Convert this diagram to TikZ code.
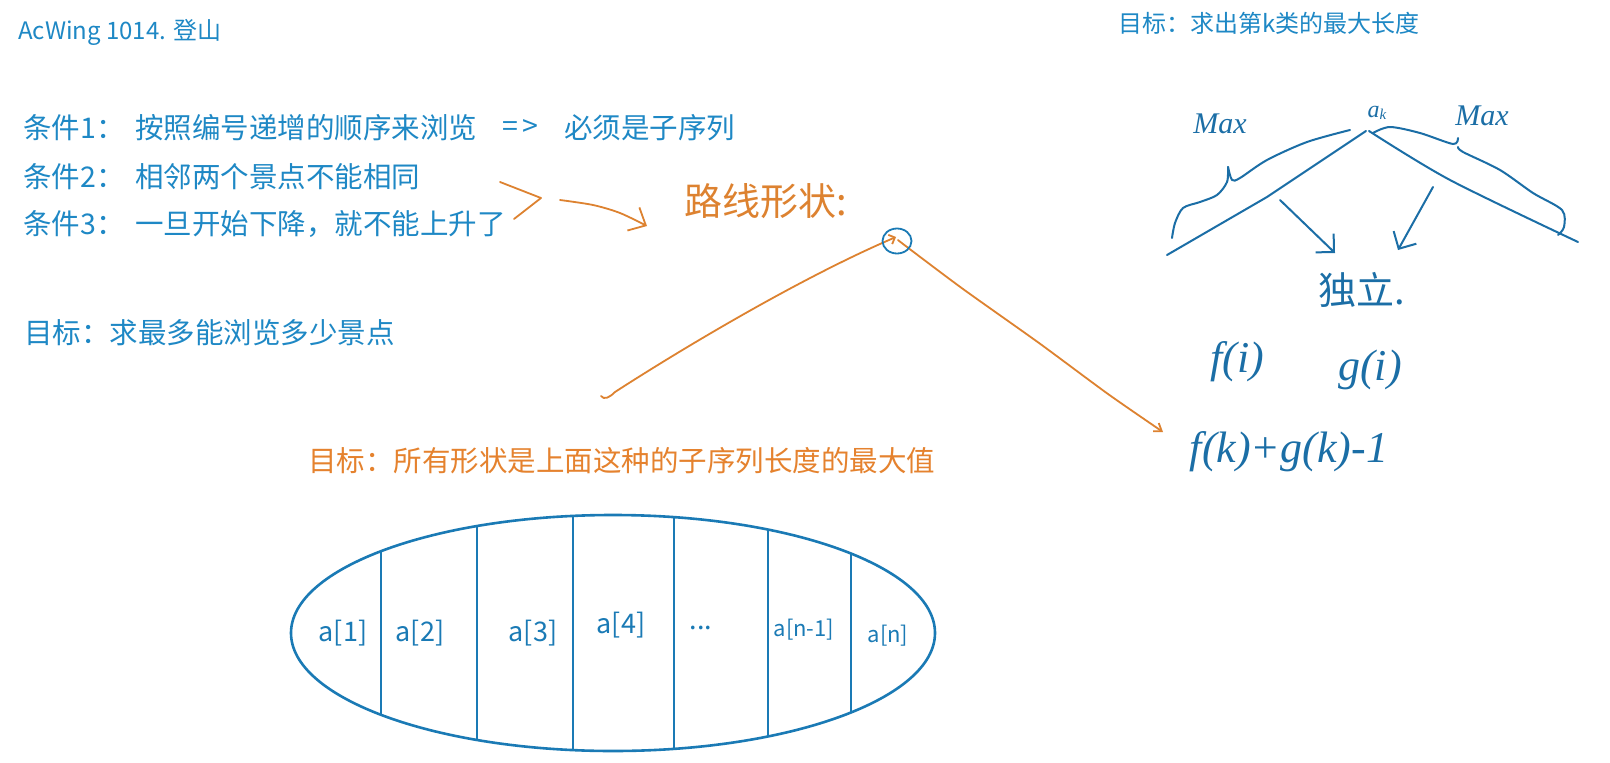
\documentclass[tikz,border=0pt]{standalone}
\usepackage{fontspec}
\setmainfont{Noto Sans CJK SC}
\newfontfamily\handfont{Liberation Serif}
\usetikzlibrary{arrows.meta}

\definecolor{textblue}{HTML}{1E88C5}
\definecolor{lineblue}{HTML}{1A7AB5}
\definecolor{inkblue}{HTML}{1B6EA6}
\definecolor{textorange}{HTML}{E5822E}
\definecolor{inkorange}{HTML}{DD8230}

\begin{document}
\begin{tikzpicture}[x=1pt,y=-1pt,
  txt/.style={anchor=west,inner sep=0pt,text=textblue,font=\fontsize{28.5}{30}\selectfont},
  subtitle/.style={anchor=west,inner sep=0pt,text=textblue,font=\fontsize{24}{26}\selectfont},
  cell/.style={inner sep=0pt,text=lineblue,font=\fontsize{27}{28}\selectfont},
  smallcell/.style={inner sep=0pt,text=lineblue,font=\fontsize{22}{23}\selectfont},
  ink/.style={draw=inkblue,line width=2pt,line cap=round,line join=round},
  oink/.style={draw=inkorange,line width=1.8pt,line cap=round,line join=round},
  hand/.style={inner sep=0pt,text=inkblue,font=\handfont\itshape\fontsize{44}{44}\selectfont},
  handcjk/.style={inner sep=0pt,font=\fontsize{38}{40}\selectfont},
]
\useasboundingbox (0,0) rectangle (1610,763);
\fill[white] (0,0) rectangle (1610,763);

% ---------- typed notes ----------
\node[subtitle] (title) at (18,32) {AcWing 1014. 登山};
\node[subtitle] (goalk) at (1118,23) {目标：求出第k类的最大长度};

\node[txt] (c1) at (23,128) {条件1：};
\node[txt] (c1body) at (135,128) {按照编号递增的顺序来浏览};
\node[txt] (imp) at (502,128) {=\,>};
\node[txt] (c1res) at (564,128) {必须是子序列};
\node[txt] (c2) at (23,177) {条件2：};
\node[txt] (c2body) at (135,177) {相邻两个景点不能相同};
\node[txt] (c3) at (23,224) {条件3：};
\node[txt] (c3body) at (135,224) {一旦开始下降，就不能上升了};
\node[txt] (goal) at (24,333) {目标：求最多能浏览多少景点};
\node[txt,text=textorange] (goal2) at (308,461) {目标：所有形状是上面这种的子序列长度的最大值};

% ---------- the sequence a[1..n] ----------
\draw[lineblue,line width=2.6pt] (613,633) ellipse [x radius=322, y radius=118];
\begin{scope}
  \clip (613,633) ellipse [x radius=322, y radius=118];
  \foreach \cx in {381,477,573,674,768,851}
    \draw[lineblue,line width=2.4pt] (\cx,500) -- (\cx,770);
\end{scope}
\node[cell] (a1) at (343,633) {a[1]};
\node[cell] (a2) at (420,633) {a[2]};
\node[cell] (a3) at (533,633) {a[3]};
\node[cell] (a4) at (621,625) {a[4]};
\node[cell] (dots) at (701,628) {...};
\node[smallcell] (an1) at (804,630) {a[n-1]};
\node[smallcell] (an) at (888,636) {a[n]};

% ---------- orange sketch: route shape ----------
\node[handcjk,text=inkorange] (shape) at (766,201) {路线形状:};
\draw[oink] (500,182) -- (541,198) -- (514,219);
\coordinate (arrowstart) at (560,200);
\coordinate (arrowtip) at (647,226);
\draw[oink,-{Straight Barb[length=14pt,width=26pt]}]
  plot[smooth] coordinates {(arrowstart) (593,205) (620,213) (arrowtip)};

\coordinate (peak) at (896,237);
\coordinate (foot) at (1163,432);
\draw[oink,-{Straight Barb[length=5pt,width=10pt]}]
  (601,396) .. controls (604,400) and (609,398) .. (615,392)
  .. controls (680,350) and (800,278) .. (peak);
\draw[oink,-{Straight Barb[length=7pt,width=10pt]}]
  plot[smooth,tension=0.4] coordinates {(898,240) (907,247) (963,289) (1039,343) (1108,394) (foot)};
\draw[lineblue,line width=1.8pt] (897,241) ellipse [x radius=14.5, y radius=12.5];

% ---------- blue sketch: peak a_k, two independent halves ----------
\node[hand,font=\handfont\itshape\fontsize{30}{30}\selectfont] (maxl) at (1220,124) {Max};
\node[hand,font=\handfont\itshape\fontsize{30}{30}\selectfont] (maxr) at (1482,116) {Max};
\node[hand,font=\handfont\itshape\fontsize{24}{24}\selectfont] (ak) at (1377,113)
  {a\raisebox{-2pt}{\fontsize{15}{15}\selectfont k}};

\draw[ink] (1167,255) -- (1267,197) -- (1366,131);
\draw[ink] plot[smooth] coordinates {(1369,131) (1450,180) (1578,242)};
\draw[ink] plot[smooth,tension=0.5] coordinates {(1172,238) (1175,223) (1183,208) (1200,202)
  (1217,195) (1227,182) (1228,167)};
\draw[ink] plot[smooth,tension=0.5] coordinates {(1228,167) (1232,180) (1240,178) (1267,160)
  (1307,142) (1350,130)};
\draw[ink] plot[smooth,tension=0.5] coordinates {(1373,133) (1390,127) (1420,133) (1453,144)
  (1458,138)};
\draw[ink] plot[smooth,tension=0.5] coordinates {(1458,147) (1463,152) (1500,170) (1533,193)
  (1562,210) (1564,227) (1558,235)};

\node[handcjk,text=inkblue] (indep) at (1362,290) {独立.};
\draw[ink,-{Straight Barb[length=13pt,width=26pt]}] (1280,200) -- (1335,253);
\draw[ink,-{Straight Barb[length=13pt,width=26pt]}] (1433,187) -- (1398,250);

\node[hand] (fi) at (1237,362) {f(i)};
\node[hand] (gi) at (1370,370) {g(i)};
\node[hand] (total) at (1289,452) {f(k)+g(k)-1};
\end{tikzpicture}
\end{document}
